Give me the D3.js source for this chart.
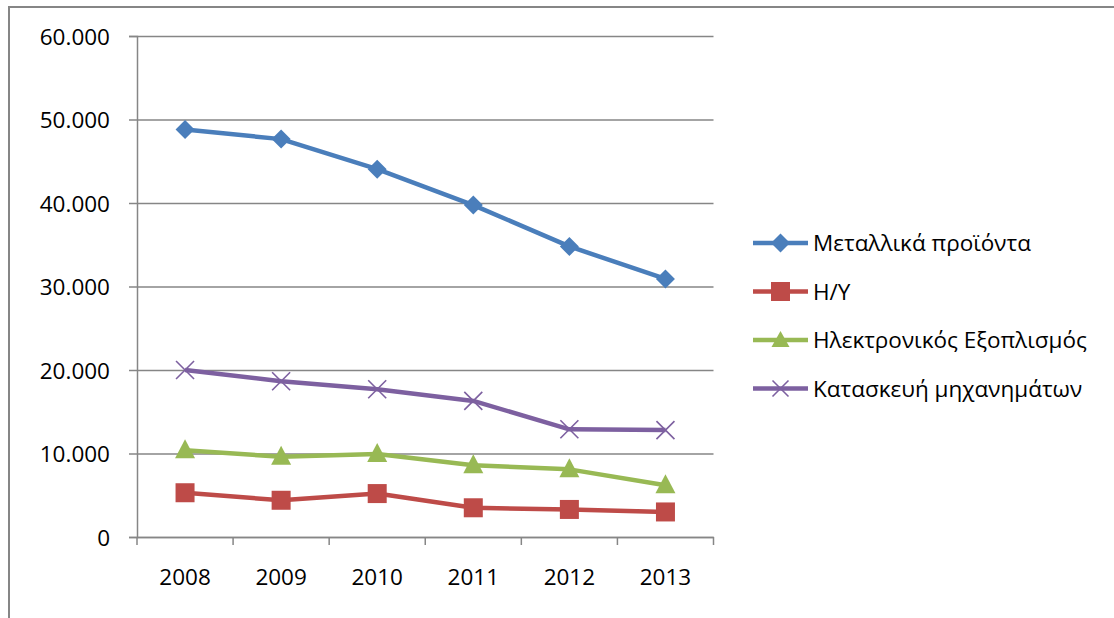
<!DOCTYPE html>
<html>
<head>
<meta charset="utf-8">
<script src="https://cdn.jsdelivr.net/npm/d3@7"></script>
<style>
  body { margin: 0; background: #fff; }
  svg text { font-family: "Open Sans", "Noto Sans", sans-serif; fill: #000; }
</style>
</head>
<body>
<svg id="chart" width="1114" height="618"></svg>
<script>
// data
const years = ["2008", "2009", "2010", "2011", "2012", "2013"];
const metallika = [48800, 47650, 44050, 39750, 34800, 30900];
const hy = [5300, 4400, 5200, 3500, 3300, 3000];
const ilektronikos = [10400, 9600, 9950, 8600, 8100, 6200];
const kataskevi = [20000, 18650, 17700, 16300, 12900, 12800];
const yTicks = [0, 10000, 20000, 30000, 40000, 50000, 60000];

const seriesNames = ["Μεταλλικά προϊόντα", "Η/Υ", "Ηλεκτρονικός Εξοπλισμός", "Κατασκευή μηχανημάτων"];
const seriesColors = ["#4a7ebb", "#be4b48", "#98b954", "#7d60a0"];
const seriesShapes = ["diamond", "square", "triangle", "cross"];

const series = [metallika, hy, ilektronikos, kataskevi].map((values, i) => ({
    name: seriesNames[i], color: seriesColors[i], shape: seriesShapes[i], values
}));

const svg = d3.select("#chart");
const plotLeft = 137, plotRight = 713.5, plotTop = 36, plotBottom = 537;

// outer chart border (only top and left visible)
svg.append("path")
    .attr("d", "M9,618 V7 H1114")
    .attr("fill", "none")
    .attr("stroke", "#868686")
    .attr("stroke-width", 2);

const xScale = d3.scaleBand().domain(years).range([plotLeft, plotRight]);
const yScale = d3.scaleLinear().domain([0, 60000]).range([plotBottom, plotTop]);

const fmt = v => v === 0 ? "0" : d3.format(",.3f")(v / 1000).replace(",", "");

// gridlines + y axis
const yAxis = svg.append("g")
    .attr("transform", `translate(${plotLeft},0)`)
    .call(d3.axisLeft(yScale).tickValues(yTicks).tickSize(8).tickFormat(fmt));
yAxis.select(".domain").attr("stroke", "#868686").attr("stroke-width", 1.5);
yAxis.selectAll(".tick line").attr("stroke", "#868686").attr("stroke-width", 1.5)
    .attr("x2", plotRight - plotLeft).attr("x1", -8);
yAxis.selectAll(".tick text")
    .attr("x", -27)
    .style("font-size", "22.5px")
    .attr("dy", "0.36em");

// x axis
const xAxis = svg.append("g")
    .attr("transform", `translate(0,${plotBottom})`)
    .call(d3.axisBottom(xScale).tickSize(0).tickPadding(32));
xAxis.select(".domain").attr("stroke", "#868686").attr("stroke-width", 1.5);
xAxis.selectAll(".tick text").style("font-size", "22.5px");

const boundaries = years.map(y => xScale(y)).concat([plotRight]);
svg.append("g").selectAll("line")
    .data(boundaries)
    .join("line")
    .attr("x1", d => d).attr("x2", d => d)
    .attr("y1", plotBottom).attr("y2", plotBottom + 8)
    .attr("stroke", "#868686").attr("stroke-width", 1.5);

function drawMarker(g, shape, color) {
    if (shape === "diamond") {
        g.append("path").attr("d", "M0,-9.5 L9.5,0 L0,9.5 L-9.5,0 Z").attr("fill", color);
    } else if (shape === "square") {
        g.append("rect").attr("x", -9.5).attr("y", -9.5).attr("width", 19).attr("height", 19)
            .attr("fill", color);
    } else if (shape === "triangle") {
        g.append("path").attr("d", "M0,-11 L10,8 L-10,8 Z").attr("fill", color);
    } else {
        g.append("path").attr("d", "M-9,-9 L9,9 M-9,9 L9,-9")
            .attr("stroke", color).attr("stroke-width", 1.6).attr("fill", "none");
    }
}

const line = d3.line()
    .x((d, i) => xScale(years[i]) + xScale.bandwidth() / 2)
    .y(d => yScale(d));

series.forEach(s => {
    svg.append("path")
        .datum(s.values)
        .attr("d", line)
        .attr("fill", "none")
        .attr("stroke", s.color)
        .attr("stroke-width", 4.5)
        .attr("stroke-linejoin", "round");
    svg.append("g").selectAll("g")
        .data(s.values)
        .join("g")
        .attr("transform", (d, i) => `translate(${xScale(years[i]) + xScale.bandwidth() / 2},${yScale(d)})`)
        .each(function () { drawMarker(d3.select(this), s.shape, s.color); });
});

// legend
const legend = svg.append("g").attr("transform", "translate(753,243)");
const items = legend.selectAll("g")
    .data(series)
    .join("g")
    .attr("transform", (d, i) => `translate(0,${i * 48.5})`);
items.append("line")
    .attr("x1", 0).attr("x2", 55)
    .attr("stroke", d => d.color)
    .attr("stroke-width", 4.5);
items.each(function (d) {
    const g = d3.select(this).append("g").attr("transform", "translate(27.5,0)");
    if (d.shape === "cross") {
        g.append("path").attr("d", "M-8,-8 L8,8 M-8,8 L8,-8")
            .attr("stroke", d.color).attr("stroke-width", 1.6);
    } else if (d.shape === "triangle") {
        g.append("path").attr("d", "M0,-9 L9,7 L-9,7 Z").attr("fill", d.color);
    } else {
        drawMarker(g, d.shape, d.color);
    }
});
items.append("text")
    .attr("x", 60)
    .attr("dy", "0.36em")
    .style("font-size", "22.5px")
    .text(d => d.name);
</script>
</body>
</html>
